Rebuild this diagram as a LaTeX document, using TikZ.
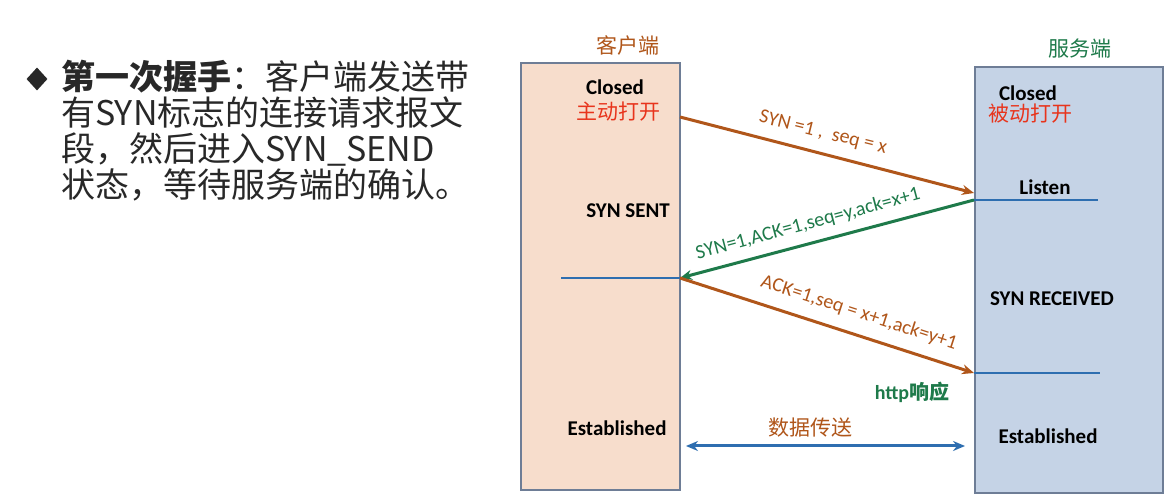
\documentclass[tikz,border=0pt]{standalone}
\usepackage{fontspec}
\setmainfont{Carlito}
\newfontfamily\cjk{Noto Sans CJK SC}
\usetikzlibrary{arrows.meta,shapes.geometric}
\definecolor{brn}{HTML}{B0561A}
\definecolor{grn}{HTML}{1E7A4A}
\definecolor{lb}{HTML}{2E6EB0}
\definecolor{red1}{HTML}{E8341C}
\begin{document}
\begin{tikzpicture}[x=1pt,y=-1pt,
 st/.style={font=\fontsize{21}{24}\selectfont\bfseries,text=black},
 msg/.style={font=\fontsize{20}{24}\selectfont},
 lbl/.style={font=\fontsize{21}{24}\selectfont\cjk},
 ln/.style={draw=lb,line width=2.4pt},
 arr/.style={line width=3pt,-{Stealth[length=12pt,width=10pt]}}]
\useasboundingbox (0,0) rectangle (1165,502);
\fill[white] (0,0) rectangle (1165,502);
% boxes
\draw[fill={rgb,255:red,247;green,221;blue,204},draw={rgb,255:red,110;green,125;blue,150},line width=1.5pt] (521,63) rectangle (680,490);
\draw[fill={rgb,255:red,197;green,211;blue,230},draw={rgb,255:red,110;green,125;blue,150},line width=1.5pt] (975,67) rectangle (1163,493);
% titles
\node[lbl,text=brn] (tc) at (628,45) {客户端};
\node[lbl,text=grn] (ts) at (1080,49) {服务端};
% states
\node[st] (c1) at (615,87) {Closed};
\node[lbl,text=red1] (c2) at (618,112) {主动打开};
\node[st] (c3) at (628,211) {SYN SENT};
\node[st] (c4) at (617,428) {Established};
\node[st] (s1) at (1028,93) {Closed};
\node[lbl,text=red1] (s2) at (1030,114) {被动打开};
\node[st] (s3) at (1045,187) {Listen};
\node[st] (s4) at (1052,299) {SYN RECEIVED};
\node[st] (s5) at (1048,436) {Established};
% anchor points
\coordinate (a1) at (680,117);
\coordinate (b1) at (974,193);
\coordinate (b2) at (974,200);
\coordinate (b2e) at (1098,200);
\coordinate (a2) at (680,278);
\coordinate (a2s) at (561,278);
\coordinate (b3) at (974,373);
\coordinate (b3e) at (1100,373);
\coordinate (d1) at (686,446);
\coordinate (d2) at (965,446);
\draw[ln] (b2) -- (b2e);
\draw[ln] (a2s) -- (a2);
\draw[ln] (b3) -- (b3e);
\draw[arr,brn] (a1) -- (b1);
\draw[arr,grn] (b2) -- (a2);
\draw[arr,brn] (a2) -- (b3);
\draw[lb,line width=3pt,{Stealth[length=12pt,width=10pt]}-{Stealth[length=12pt,width=10pt]}] (d1) -- (d2);
\node[msg,text=brn,rotate=-14] (m1) at (823,133) {SYN =1 ,\ \ seq = x};
\node[msg,text=grn,rotate=15] (m2) at (808,224) {SYN=1,ACK=1,seq=y,ack=x+1};
\node[msg,text=brn,rotate=-18] (m3) at (859,313) {ACK=1,seq = x+1,ack=y+1};
\node[font=\fontsize{20}{24}\selectfont\bfseries,text=grn] (h) at (912,392) {http{\cjk 响应}};
\node[lbl,text=brn] (dt) at (810,428) {数据传送};
% left text
\node[diamond,fill={rgb,255:red,40;green,40;blue,40},minimum width=21pt,minimum height=23pt,inner sep=0] (bul) at (37,79) {};
\node[anchor=north west,align=left,inner sep=0,text={rgb,255:red,40;green,40;blue,40},
 font=\fontsize{34}{36}\selectfont\cjk] (txt) at (61,60)
 {{\bfseries 第一次握手}：客户端发送带\\有SYN标志的连接请求报文\\段，然后进入SYN\_SEND\\状态，等待服务端的确认。};
\end{tikzpicture}
\end{document}
